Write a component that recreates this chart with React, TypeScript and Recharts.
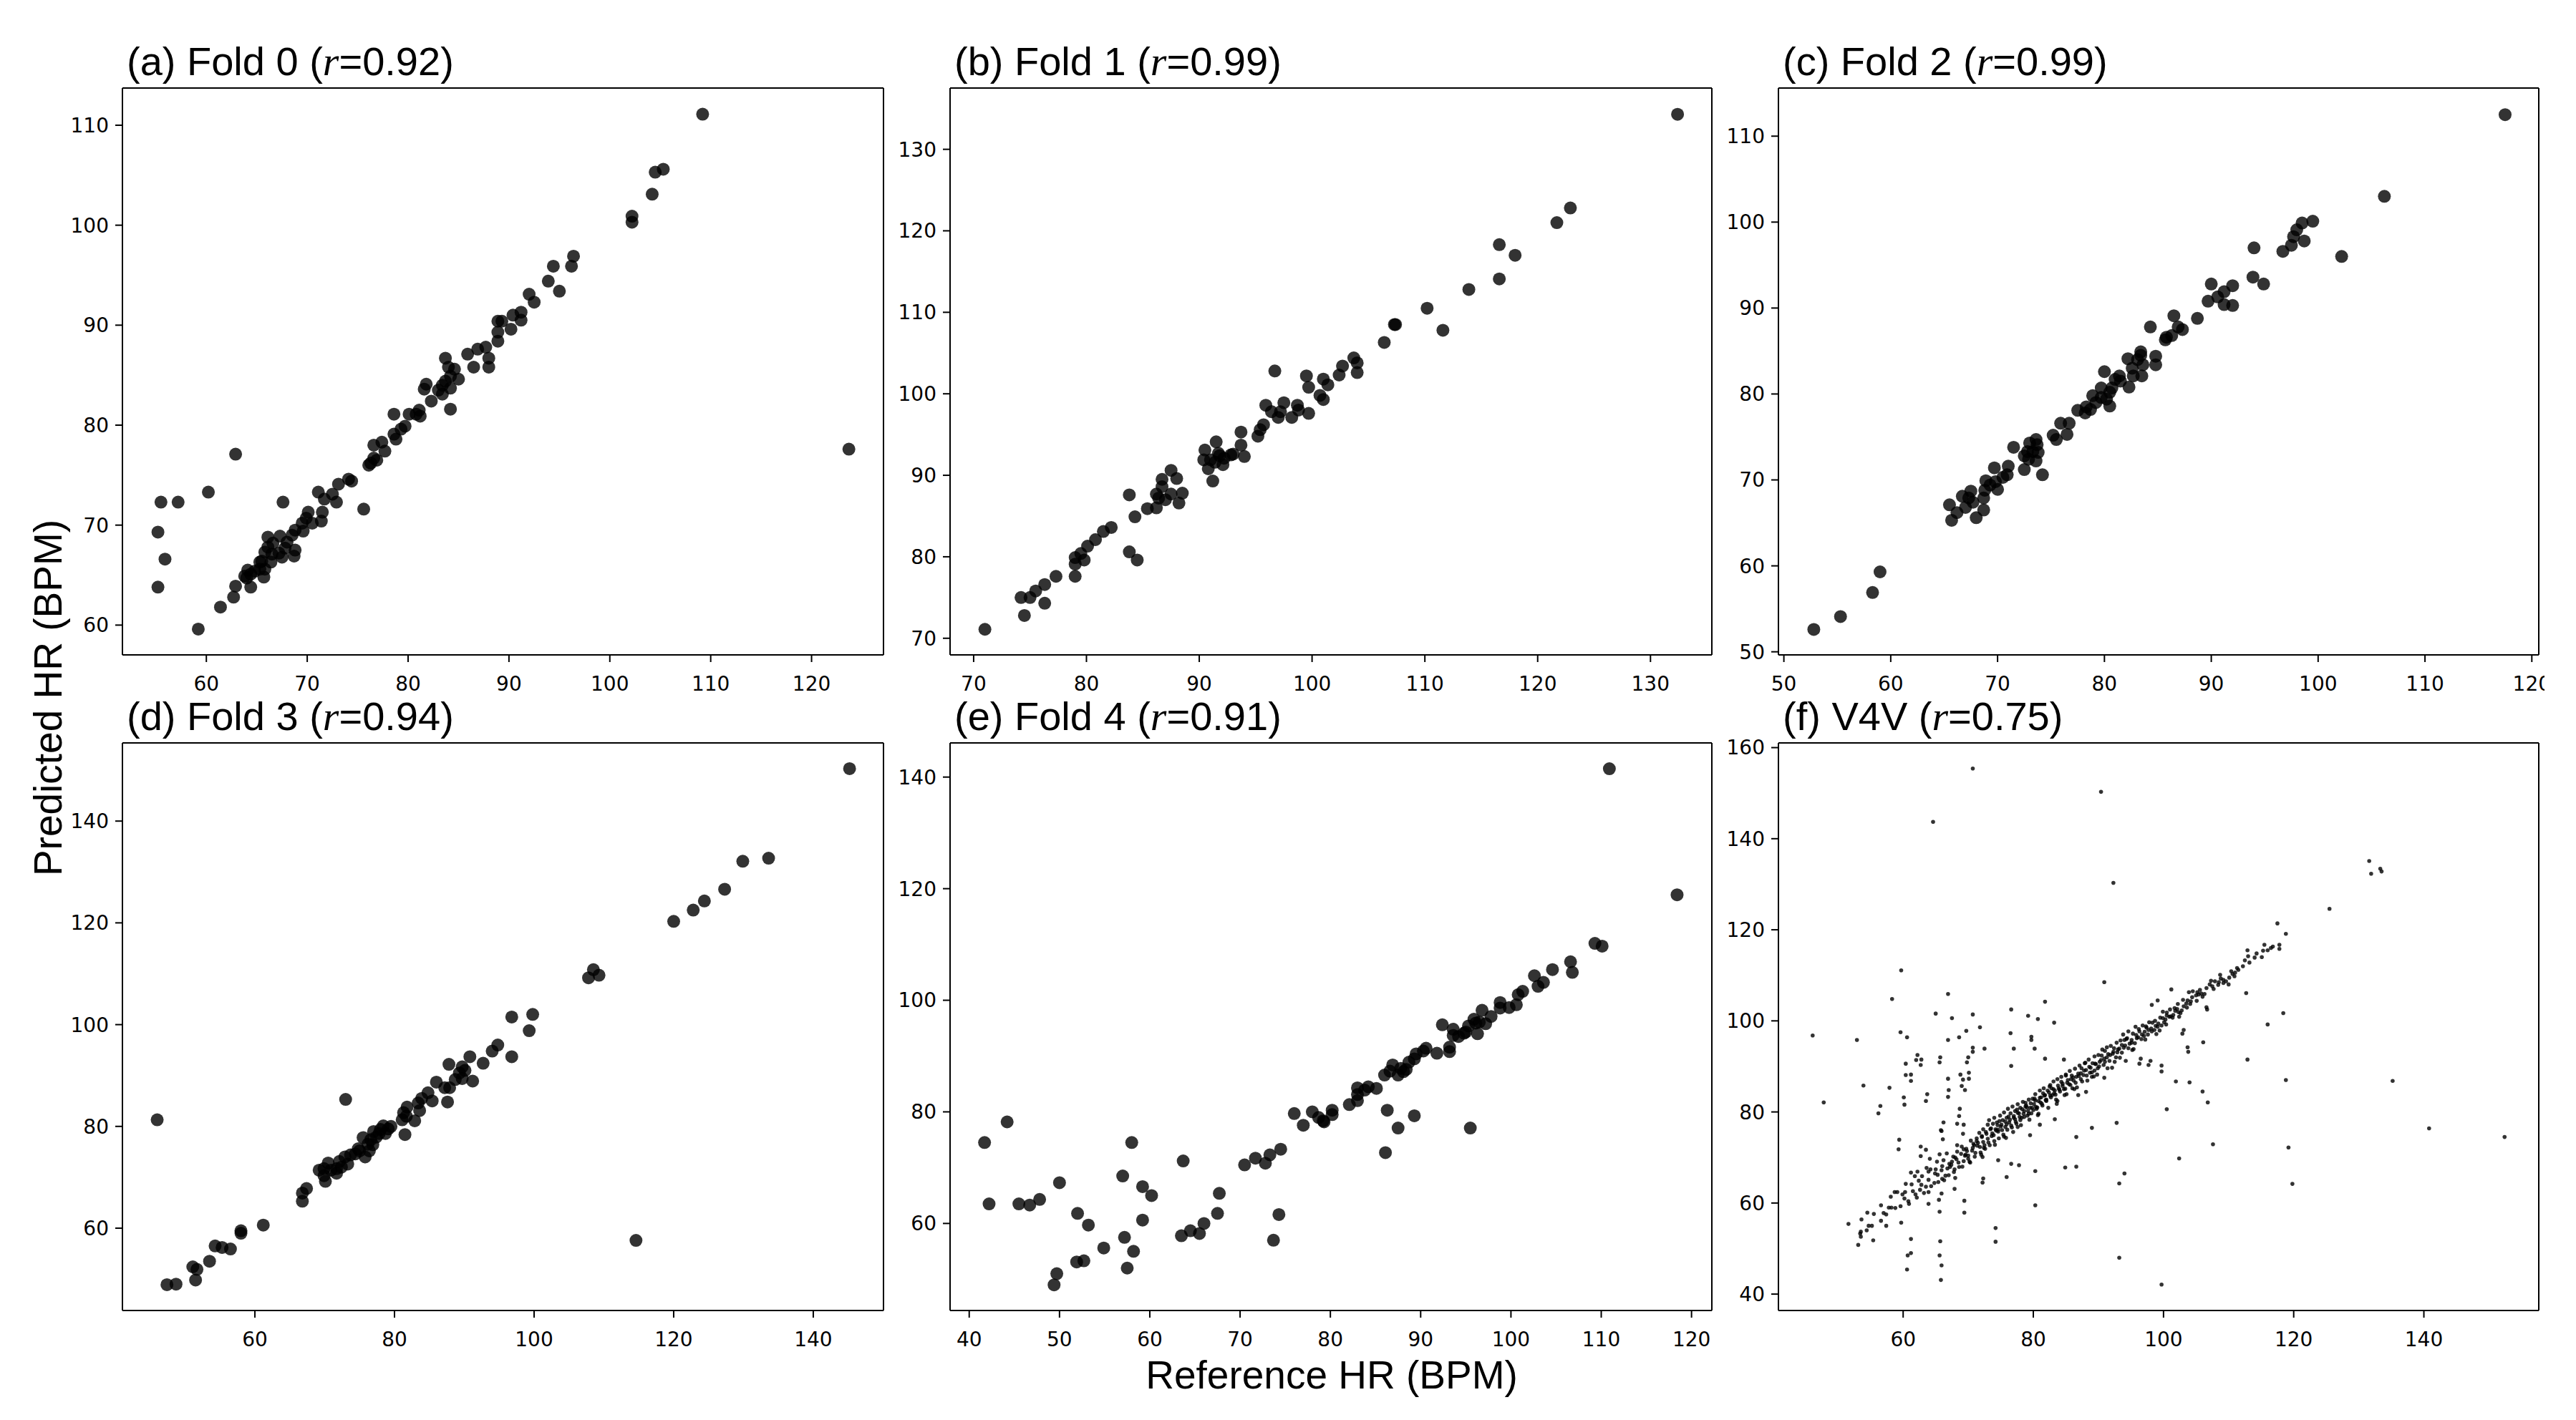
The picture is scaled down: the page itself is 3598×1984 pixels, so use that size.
import React from 'react';
import { ScatterChart, Scatter, XAxis, YAxis, ReferenceLine } from 'recharts';

type Pt = [number, number]; // [reference HR, predicted HR]

const fold0: Pt[] = [
  [109.2, 111.1], [123.7, 77.6], [105.3, 105.6], [104.5, 105.3], [104.2, 103.1], [102.2, 100.9], [102.2, 100.3],
  [96.4, 96.9], [96.2, 95.9], [94.4, 95.9], [93.9, 94.4], [95.0, 93.4], [92.0, 93.1], [92.5, 92.3], [91.2, 91.3],
  [91.2, 90.5], [90.4, 91.0], [90.2, 89.6], [88.9, 90.4], [89.3, 90.4], [88.9, 89.3], [88.9, 88.4], [87.7, 87.8],
  [86.9, 87.6], [85.9, 87.1], [86.5, 85.8], [88.0, 86.7], [88.0, 85.8], [83.7, 86.7], [84.0, 85.8], [84.6, 85.6],
  [85.0, 84.6], [84.2, 84.9], [83.7, 84.4], [83.4, 84.0], [84.2, 83.7], [83.0, 83.5], [83.4, 83.1], [84.2, 81.6],
  [81.8, 84.1], [81.6, 83.6], [82.3, 82.4], [81.1, 81.5], [80.8, 81.1], [80.1, 81.1], [81.2, 80.9], [79.7, 79.9],
  [79.3, 79.6], [78.6, 81.1], [78.8, 78.6], [78.6, 79.1], [77.4, 78.3], [76.6, 78.0], [77.7, 77.4], [76.9, 76.5],
  [76.3, 76.2], [76.1, 76.0], [76.6, 76.7], [75.6, 71.6], [74.4, 74.4], [74.1, 74.6], [73.1, 74.1], [72.5, 73.1],
  [72.9, 72.3], [71.7, 72.6], [71.1, 73.3], [71.5, 71.3], [71.4, 70.4], [70.1, 71.3], [69.9, 70.7], [69.5, 70.2],
  [70.5, 70.2], [69.6, 69.4], [68.8, 69.5], [68.5, 69.0], [68.0, 68.3], [67.6, 72.3], [67.3, 68.9], [66.6, 68.2],
  [66.1, 68.8], [67.5, 66.8], [68.7, 66.9], [68.8, 67.5], [66.1, 67.8], [65.8, 67.3], [66.4, 66.3], [65.5, 66.4],
  [65.8, 65.6], [65.3, 65.6], [65.7, 64.8], [64.4, 65.1], [64.1, 65.5], [64.0, 64.7], [64.4, 63.8], [62.9, 63.9],
  [62.7, 62.8], [61.4, 61.8], [59.2, 59.6], [62.9, 77.1], [60.2, 73.3], [57.2, 72.3], [55.5, 72.3], [55.2, 69.3],
  [55.9, 66.6], [55.2, 63.8], [66.5, 67.1], [67.2, 67.2], [67.8, 67.7], [65.3, 66.3], [64.8, 65.4], [63.8, 64.9],
];

const fold1: Pt[] = [
  [132.4, 134.3], [122.9, 122.8], [121.7, 121.0], [116.6, 118.3], [118.0, 117.0], [116.6, 114.1], [113.9, 112.8],
  [110.2, 110.5], [111.6, 107.8], [107.3, 108.5], [107.4, 108.5], [106.4, 106.3], [103.7, 104.4], [104.0, 103.8],
  [102.7, 103.4], [104.0, 102.6], [102.4, 102.3], [101.0, 101.8], [101.4, 101.1], [99.5, 102.2], [99.7, 100.8],
  [100.7, 99.8], [101.0, 99.3], [99.7, 97.6], [96.7, 102.8], [98.7, 98.6], [98.8, 98.0], [97.5, 98.9], [95.9, 98.6],
  [96.4, 97.8], [97.2, 97.8], [97.0, 97.1], [98.2, 97.1], [95.7, 96.2], [95.4, 95.6], [95.2, 94.8], [93.7, 95.3],
  [93.7, 93.7], [94.0, 92.3], [93.0, 92.6], [91.5, 94.1], [91.7, 92.7], [90.5, 93.1], [90.4, 91.9], [91.0, 91.9],
  [92.1, 91.3], [90.8, 90.8], [91.2, 89.3], [91.4, 91.6], [92.2, 92.1], [92.8, 92.5], [91.8, 92.4], [87.5, 90.6],
  [88.0, 89.6], [86.7, 89.5], [86.7, 88.6], [86.2, 87.7], [87.0, 87.0], [87.5, 87.7], [88.5, 87.8], [88.2, 86.6],
  [86.2, 86.0], [85.4, 85.9], [84.3, 84.9], [83.8, 87.6], [83.8, 80.6], [84.5, 79.6], [82.2, 83.6], [81.5, 83.1],
  [80.8, 82.1], [80.1, 81.3], [79.5, 80.4], [79.0, 79.9], [79.8, 79.6], [79.0, 79.1], [79.0, 77.6], [77.3, 77.6],
  [76.3, 76.6], [75.5, 75.8], [74.2, 75.0], [75.0, 75.0], [76.3, 74.3], [74.5, 72.8], [71.0, 71.1], [86.4, 87.2],
];

const fold2: Pt[] = [
  [117.5, 112.5], [106.2, 103.0], [102.2, 96.0], [99.5, 100.1], [98.5, 99.9], [98.0, 99.1], [97.7, 98.3],
  [98.7, 97.8], [97.5, 97.3], [96.7, 96.6], [94.0, 97.0], [93.9, 93.6], [94.9, 92.8], [90.0, 92.8], [92.0, 92.6],
  [91.2, 91.9], [90.6, 91.3], [91.2, 90.4], [92.0, 90.3], [89.7, 90.8], [88.7, 88.8], [86.5, 89.1], [84.3, 87.8],
  [86.9, 87.8], [87.3, 87.5], [86.3, 86.8], [85.8, 86.6], [85.7, 86.3], [83.4, 84.9], [83.4, 84.5], [84.8, 84.4],
  [83.1, 84.0], [82.2, 84.1], [83.6, 83.4], [84.8, 83.4], [82.6, 83.0], [80.0, 82.6], [83.5, 82.1], [82.7, 82.1],
  [81.4, 82.1], [81.0, 81.7], [81.5, 81.5], [80.7, 80.7], [82.3, 80.8], [79.7, 80.7], [80.5, 80.2], [78.9, 79.8],
  [79.7, 79.6], [80.2, 79.4], [79.2, 79.0], [78.3, 78.5], [78.7, 78.2], [80.5, 78.6], [77.5, 78.1], [78.2, 77.8],
  [75.9, 76.6], [76.7, 76.6], [76.5, 75.3], [75.5, 74.7], [75.2, 75.2], [73.6, 74.7], [73.0, 74.3], [73.7, 74.1],
  [71.5, 73.8], [72.8, 73.3], [73.3, 73.3], [72.5, 72.8], [73.8, 73.2], [72.9, 72.4], [73.6, 72.2], [72.5, 71.2],
  [74.2, 70.6], [71.0, 71.6], [70.9, 70.6], [69.7, 71.4], [70.5, 70.3], [69.8, 69.8], [69.3, 69.4], [68.9, 69.9],
  [70.0, 68.9], [68.8, 68.8], [68.7, 67.9], [67.5, 68.7], [66.7, 68.1], [67.3, 67.9], [67.7, 67.4], [67.0, 66.8],
  [65.5, 67.1], [66.2, 66.2], [65.7, 65.3], [68.7, 66.5], [68.0, 65.6], [59.0, 59.3], [58.3, 56.9], [55.3, 54.1],
  [52.8, 52.6],
];

const fold3: Pt[] = [
  [145.2, 150.3], [133.6, 132.7], [129.9, 132.1], [127.3, 126.6], [124.4, 124.3], [122.8, 122.5], [120.0, 120.3],
  [114.6, 57.6], [108.5, 110.8], [107.8, 109.2], [109.3, 109.7], [99.8, 102.0], [96.8, 101.5], [99.3, 98.8],
  [94.8, 96.0], [94.0, 94.8], [96.8, 93.7], [90.8, 93.7], [92.7, 92.4], [89.7, 91.7], [87.8, 92.2], [90.1, 91.0],
  [89.3, 90.5], [89.7, 89.4], [91.2, 88.9], [88.7, 89.2], [87.9, 87.6], [87.2, 87.6], [86.0, 88.7], [87.6, 84.8],
  [84.8, 86.6], [85.4, 85.0], [83.9, 85.5], [83.4, 84.6], [83.6, 83.1], [81.8, 83.8], [81.3, 82.7], [81.7, 82.0],
  [81.1, 81.3], [82.9, 81.1], [81.5, 78.4], [73.0, 85.3], [79.5, 80.0], [79.1, 79.5], [78.4, 80.1], [78.7, 78.6],
  [77.8, 78.6], [77.4, 77.9], [77.0, 79.0], [76.6, 77.4], [76.2, 76.5], [75.5, 77.8], [76.4, 75.2], [75.8, 74.0],
  [75.0, 75.2], [74.4, 74.6], [73.7, 74.4], [72.9, 74.0], [73.3, 72.6], [72.1, 73.1], [71.7, 71.7], [70.5, 72.8],
  [69.9, 71.7], [69.2, 71.4], [70.9, 71.4], [69.9, 70.3], [70.1, 69.2], [71.7, 70.8], [67.4, 67.8], [66.8, 66.9],
  [66.8, 65.3], [61.2, 60.6], [58.0, 59.5], [58.0, 59.0], [56.5, 55.9], [55.3, 56.2], [54.3, 56.5], [53.5, 53.5],
  [51.7, 51.9], [51.1, 52.4], [51.5, 49.8], [48.7, 49.0], [47.4, 48.9], [46.0, 81.3], [74.8, 75.6], [76.9, 76.4],
  [78.0, 79.4], [72.4, 72.0],
];

const fold4: Pt[] = [
  [110.9, 141.5], [118.4, 118.9], [109.3, 110.2], [110.1, 109.7], [106.6, 106.9], [106.8, 105.0], [104.6, 105.5],
  [102.6, 104.4], [103.6, 103.2], [103.0, 102.5], [101.3, 101.6], [100.8, 101.0], [100.6, 99.2], [99.8, 98.7],
  [98.8, 99.6], [98.8, 98.6], [97.8, 97.1], [96.8, 98.2], [97.2, 95.8], [96.5, 96.1], [95.9, 96.6], [95.3, 95.4],
  [96.3, 94.0], [95.0, 94.3], [92.4, 95.6], [93.6, 94.8], [93.6, 93.7], [94.2, 93.5], [93.2, 91.6], [93.2, 90.8],
  [91.8, 90.5], [90.6, 91.4], [90.3, 90.9], [89.5, 90.4], [89.3, 89.5], [88.7, 88.9], [88.4, 87.6], [87.8, 87.8],
  [86.9, 88.4], [86.6, 87.3], [87.5, 86.6], [86.0, 86.6], [85.1, 84.2], [84.2, 84.5], [83.8, 83.9], [83.0, 84.3],
  [83.0, 83.1], [83.0, 82.0], [82.1, 81.3], [80.2, 80.3], [80.2, 79.5], [79.2, 78.4], [79.3, 78.2], [78.7, 79.0],
  [78.0, 80.0], [76.0, 79.7], [77.0, 77.6], [86.3, 80.3], [89.3, 79.3], [87.5, 77.1], [95.5, 77.1], [86.1, 72.7],
  [74.5, 73.3], [73.3, 72.3], [71.7, 71.7], [72.8, 70.8], [70.5, 70.5], [67.7, 65.4], [67.5, 61.8], [74.3, 61.6],
  [73.7, 57.0], [66.0, 60.0], [65.5, 58.2], [64.5, 58.7], [63.5, 57.8], [63.7, 71.2], [60.2, 65.0], [59.2, 66.6],
  [59.2, 60.6], [58.0, 74.5], [57.0, 68.5], [57.2, 57.5], [58.2, 55.0], [57.5, 52.0], [54.9, 55.6], [53.2, 59.7],
  [52.0, 61.8], [52.7, 53.3], [51.9, 53.1], [50.0, 67.3], [49.7, 51.0], [49.4, 49.0], [47.8, 64.3], [46.7, 63.3],
  [45.5, 63.5], [44.2, 78.2], [42.2, 63.5], [41.7, 74.5], [96.1, 95.9], [88.1, 87.2], [94.8, 94.1],
];

const v4vOutliers: Pt[] = [
  [70.7, 155.4], [90.4, 150.3], [64.6, 143.7], [92.3, 130.3], [131.6, 135.1], [131.9, 132.3], [133.3, 133.4],
  [133.5, 132.8], [125.5, 124.6], [117.5, 121.4], [118.8, 119.1], [59.7, 111.1], [58.3, 104.8], [66.9, 105.9],
  [90.9, 108.5], [81.8, 104.2], [65.0, 101.6], [70.7, 101.4], [76.6, 102.5], [67.5, 100.6], [79.2, 101.1],
  [80.7, 100.4], [83.2, 99.6], [71.8, 98.6], [69.7, 97.8], [59.6, 97.5], [46.1, 96.8], [52.9, 95.8], [60.6, 96.4],
  [68.6, 96.4], [66.9, 95.8], [76.5, 97.3], [79.7, 96.5], [79.7, 95.8], [72.5, 93.9], [70.7, 93.2], [77.0, 93.9],
  [80.2, 93.9], [65.6, 90.9], [60.4, 90.6], [62.0, 91.4], [62.7, 90.3], [69.8, 90.9], [76.6, 90.1], [81.8, 91.7],
  [84.7, 91.5], [60.4, 88.1], [61.2, 86.8], [66.9, 87.3], [69.2, 87.1], [70.1, 87.3], [70.1, 88.6], [53.9, 85.8],
  [57.9, 85.3], [69.5, 84.8], [63.5, 82.4], [47.8, 82.1], [60.2, 81.6], [66.9, 83.3], [56.2, 79.7], [68.6, 79.1],
  [65.9, 75.8], [66.1, 74.0], [59.3, 71.8], [62.7, 70.3], [72.2, 70.1], [74.6, 69.4], [76.6, 68.6], [77.8, 68.3],
  [67.9, 63.1], [63.9, 59.8], [56.6, 59.5], [51.6, 55.4], [54.7, 55.0], [57.4, 55.0], [59.7, 55.7], [69.4, 57.9],
  [80.3, 59.5], [65.6, 58.1], [72.3, 65.4], [75.9, 65.7], [80.3, 67.0], [65.6, 48.5], [61.2, 49.0], [60.6, 45.4],
  [65.8, 43.1], [74.2, 51.5], [93.2, 48.0], [99.7, 42.1], [94.0, 66.5], [93.2, 64.3], [92.8, 77.6], [89.0, 76.5],
  [86.6, 74.5], [84.9, 67.8], [86.6, 68.0], [100.5, 80.6], [102.4, 69.8], [107.6, 72.9], [106.8, 82.1], [106.0, 84.5],
  [104.0, 86.5], [101.9, 86.7], [97.7, 90.3], [96.3, 90.6], [99.7, 88.9], [102.9, 97.2], [103.8, 93.2], [106.1, 95.3],
  [106.7, 102.5], [112.7, 106.1], [112.9, 91.5], [116.0, 99.2], [118.4, 101.7], [118.8, 87.0], [119.2, 72.2],
  [119.8, 64.2], [135.2, 86.8], [140.8, 76.4], [152.4, 74.5], [53.5, 53.7], [53.1, 50.8], [53.5, 52.6], [55.4, 51.8],
  [59.4, 73.9], [56.5, 81.3], [60.1, 83.2], [63.7, 83.9], [61.2, 88.2], [62.2, 92.5], [62.8, 91.5], [65.7, 92.0],
  [67.0, 84.8], [68.8, 88.2], [69.0, 85.7], [70.0, 92.0], [70.7, 94.1], [68.7, 80.7], [66.2, 77.7], [65.8, 76.0],
  [68.3, 77.4], [69.3, 77.2], [69.2, 75.2], [62.7, 72.4], [63.5, 71.7], [68.0, 65.5], [69.4, 60.5], [72.2, 64.5],
  [63.9, 62.4], [65.9, 62.1], [65.5, 60.7], [74.2, 54.5], [61.2, 52.1], [60.7, 48.5], [65.7, 51.6], [65.9, 46.3],
  [98.2, 103.5], [99.1, 104.5], [101.2, 106.9], [103.1, 98.0], [103.7, 94.2], [106.6, 103.0], [99.7, 90.2],
  [96.5, 91.7], [98.0, 91.2], [90.9, 87.5], [88.1, 84.4], [86.9, 83.7], [83.3, 78.4], [81.0, 77.2], [79.5, 74.9],
];

const v4vBand: Pt[] = [
  [53.6, 56.4], [54.5, 57.9], [55.5, 57.6], [57.0, 57.8], [57.8, 59.0], [58.2, 59.0], [58.1, 61.4], [58.7, 62.4],
  [59.1, 62.4], [59.9, 61.9], [60.3, 62.4], [60.4, 64.2], [61.2, 66.7], [61.3, 64.1], [61.8, 65.9], [62.2, 66.9],
  [62.4, 64.9], [62.9, 65.9], [63.6, 67.7], [63.9, 66.9], [64.2, 67.4], [64.1, 69.7], [65.0, 67.4], [65.2, 69.1],
  [65.6, 70.7], [66.0, 68.1], [66.2, 69.4], [66.7, 70.9], [67.1, 68.6], [67.5, 69.1], [67.7, 70.2], [68.3, 71.3],
  [68.3, 72.7], [69.0, 72.4], [69.3, 71.8], [69.5, 70.4], [70.0, 69.7], [69.8, 71.4], [70.4, 73.7], [70.9, 72.7],
  [71.3, 74.2], [71.5, 73.2], [71.7, 75.4], [72.1, 74.7], [72.3, 76.2], [72.5, 72.7], [72.8, 75.2], [73.0, 77.2],
  [73.2, 78.2], [73.4, 76.2], [73.6, 74.7], [73.8, 77.4], [74.0, 78.7], [74.2, 76.2], [74.4, 77.7], [74.6, 75.7],
  [74.9, 79.2], [75.1, 77.2], [75.3, 78.2], [75.5, 79.9], [75.7, 76.7], [75.9, 78.7], [76.1, 80.7], [76.3, 77.7],
  [76.5, 79.7], [76.8, 81.2], [77.0, 78.7], [77.2, 80.2], [77.4, 77.4], [77.6, 81.7], [77.8, 79.7], [78.0, 80.9],
  [78.2, 78.7], [78.4, 82.2], [78.6, 80.2], [78.9, 81.4], [79.1, 79.2], [79.3, 82.7], [79.5, 80.9], [79.7, 79.7],
  [79.9, 82.9], [80.1, 81.7], [80.3, 83.9], [80.5, 80.7], [80.8, 82.4], [81.0, 84.7], [81.2, 83.2], [81.4, 81.4],
  [81.6, 85.2], [81.8, 83.7], [82.0, 82.4], [82.2, 84.7], [82.6, 85.9], [82.9, 83.7], [83.1, 86.7], [83.3, 84.7],
  [83.5, 82.7], [83.7, 87.2], [83.9, 85.2], [84.3, 87.7], [84.5, 85.7], [84.8, 83.7], [85.0, 88.2], [85.2, 86.4],
  [85.6, 89.0], [85.8, 87.2], [86.0, 85.2], [86.4, 89.5], [86.6, 87.7], [87.1, 90.2], [87.3, 88.5], [87.5, 86.7],
  [87.9, 90.7], [88.1, 89.2], [88.5, 91.5], [88.8, 89.7], [89.0, 87.7], [89.4, 92.2], [89.6, 90.5], [90.0, 92.5],
  [90.2, 91.0], [90.6, 93.7], [90.9, 91.7], [91.3, 94.2], [91.5, 92.7], [91.9, 94.5], [92.1, 89.7], [92.3, 93.2],
  [92.8, 95.2], [93.0, 93.7], [93.4, 95.7], [93.6, 94.7], [93.8, 97.0], [94.2, 91.2], [94.4, 96.2], [94.6, 97.7],
  [95.1, 95.2], [95.3, 97.2], [95.7, 98.7], [95.9, 96.2], [96.3, 97.7], [96.8, 99.0], [97.0, 96.7], [97.4, 98.5],
  [97.8, 99.7], [98.2, 97.7], [98.7, 100.0], [99.1, 98.7], [99.5, 100.7], [99.9, 102.0], [100.1, 99.7], [100.5, 101.2],
  [101.0, 102.5], [101.4, 100.7], [101.8, 102.2], [102.2, 103.7], [102.6, 101.7], [103.1, 103.2], [103.7, 104.5],
  [104.1, 103.7], [103.9, 106.3], [104.5, 106.5], [105.2, 106.3], [106.0, 105.3], [105.4, 105.8], [107.3, 108.8],
  [107.7, 107.0], [108.5, 108.5], [108.8, 109.3], [109.2, 108.3], [110.0, 108.0], [110.6, 110.3], [110.9, 109.8],
  [111.5, 111.2], [112.5, 113.3], [113.2, 112.8], [114.0, 113.9], [115.1, 114.0], [112.9, 115.5], [115.5, 116.7],
  [115.3, 115.4], [116.5, 116.0], [116.8, 116.3], [117.8, 116.7], [117.8, 115.8],
];

const v4vCore: Pt[] = [
  [66.5, 66.0], [67.2, 67.9], [67.8, 66.8], [68.5, 68.9], [69.1, 68.0], [69.6, 70.6], [70.2, 69.1], [70.6, 71.5],
  [71.0, 70.2], [71.4, 72.6], [71.9, 71.1], [72.3, 73.4], [72.6, 71.9], [73.0, 74.1], [73.3, 72.7], [73.7, 75.3],
  [74.0, 73.6], [74.3, 75.9], [74.7, 74.2], [75.0, 76.8], [75.4, 75.0], [75.7, 77.9], [76.0, 76.1], [76.4, 78.3],
  [76.7, 76.6], [77.0, 79.1], [77.3, 77.8], [77.6, 79.8], [78.0, 78.2], [78.3, 80.6], [78.6, 78.9], [79.0, 81.0],
  [79.3, 79.6], [79.6, 81.9], [80.0, 80.4], [80.3, 82.5], [80.6, 81.0], [81.0, 83.1], [81.3, 81.8], [81.7, 83.6],
  [82.0, 82.7], [82.4, 84.3], [82.7, 83.2], [83.1, 85.0], [83.4, 83.8], [83.8, 85.8], [84.1, 84.5], [84.5, 86.2],
  [84.9, 85.1], [85.3, 87.0], [85.7, 85.9], [86.1, 87.6], [86.5, 86.4], [86.9, 88.4], [87.3, 87.2], [87.8, 89.1],
  [88.2, 88.0], [88.6, 89.9], [89.0, 88.7], [89.5, 90.6], [89.9, 89.6], [90.4, 91.4], [90.8, 90.3], [91.3, 92.0],
  [91.7, 91.2], [92.2, 92.8], [92.7, 92.0], [93.2, 93.9], [93.6, 93.0], [94.1, 94.6], [94.6, 94.0], [95.1, 95.8],
  [95.6, 95.1], [96.1, 96.4], [96.6, 96.0], [97.1, 97.6], [97.6, 97.0], [98.1, 98.3], [98.6, 98.0], [99.2, 99.4],
  [99.7, 99.0], [100.3, 100.3], [100.9, 100.9], [101.5, 101.3], [102.1, 102.6], [102.8, 102.3], [103.5, 103.8],
  [104.2, 104.3], [105.0, 105.6], [105.8, 106.0], [106.6, 107.2], [107.5, 107.6], [108.4, 107.9], [109.2, 109.0],
  [110.1, 109.5], [111.0, 110.6], [68.0, 70.0], [70.8, 73.0], [72.0, 70.6], [74.5, 77.1], [75.8, 74.3], [77.6, 76.7],
  [78.8, 82.0], [80.8, 79.6], [82.5, 85.6], [83.7, 82.4], [85.0, 88.0], [86.3, 85.0], [88.0, 90.8], [89.3, 87.8],
  [91.0, 93.4], [92.5, 91.0], [94.0, 95.8], [95.4, 93.8], [97.3, 98.8], [98.9, 97.1], [100.5, 101.8], [102.4, 100.9],
  [64.8, 64.4], [65.3, 66.2], [66.0, 65.3], [63.5, 63.6], [62.6, 62.9], [61.9, 61.9], [60.8, 60.4], [59.6, 59.3],
  [58.8, 58.9], [57.4, 57.5], [56.6, 56.1], [55.2, 55.0], [54.4, 54.0], [53.4, 53.3],
];

const v4vCoreExtra: Pt[] = [
  [60.2, 61.0], [60.9, 59.8], [61.5, 62.6], [62.1, 61.2], [62.8, 64.0], [63.2, 62.2], [63.9, 65.1], [64.3, 63.7],
  [64.9, 66.5], [65.4, 64.6], [65.9, 67.2], [66.3, 65.0], [66.8, 67.6], [67.0, 66.1], [67.4, 68.4], [67.9, 67.4],
  [68.2, 69.6], [68.6, 67.9], [68.9, 70.8], [69.3, 69.2], [69.7, 71.9], [70.0, 70.4], [70.3, 68.9], [70.7, 72.1],
  [71.1, 71.0], [71.3, 73.6], [71.8, 72.3], [72.1, 74.5], [72.4, 72.1], [72.7, 75.6], [73.1, 73.3], [73.5, 76.4],
  [73.9, 74.9], [74.1, 72.8], [74.6, 76.1], [74.8, 78.0], [75.2, 76.0], [75.5, 74.6], [75.9, 77.3], [76.2, 79.0],
  [76.6, 77.0], [76.9, 75.6], [77.2, 78.4], [77.5, 80.5], [77.9, 78.9], [78.1, 77.1], [78.5, 79.6], [78.8, 81.2],
  [79.2, 80.2], [79.4, 78.3], [79.8, 80.9], [80.2, 82.9], [80.4, 81.1], [80.7, 79.3], [81.1, 82.1], [81.5, 84.1],
  [81.9, 82.6], [82.3, 80.9], [82.6, 83.6], [82.8, 85.2], [83.2, 84.1], [83.6, 81.8], [84.0, 84.9], [84.3, 86.6],
  [84.7, 85.0], [85.1, 83.9], [85.5, 86.1], [85.9, 88.0], [86.2, 86.9], [86.7, 85.4], [87.0, 87.9], [87.4, 89.6],
  [87.7, 88.1], [88.3, 86.9], [88.7, 88.6], [89.1, 90.7], [89.4, 89.1], [89.8, 88.2], [90.1, 90.0], [90.5, 92.4],
  [91.0, 91.0], [91.4, 89.6], [91.8, 92.5], [92.4, 94.0], [92.9, 93.1], [93.3, 91.9], [93.9, 94.1], [94.3, 96.0],
  [94.8, 95.0], [95.2, 93.6], [95.8, 96.9], [96.2, 98.2], [96.7, 97.0], [97.2, 95.9], [97.7, 98.0], [98.3, 99.6],
  [98.8, 98.9], [99.4, 97.9], [99.9, 100.6], [100.4, 99.2], [101.1, 101.0], [101.7, 102.8], [102.3, 101.9],
  [103.0, 104.6], [103.6, 102.9], [104.4, 105.2], [105.1, 104.4], [105.6, 106.8], [106.3, 105.9], [107.1, 108.0],
  [107.9, 108.7], [108.7, 110.1], [109.6, 108.7], [110.4, 110.9], [111.3, 111.6], [112.2, 112.0], [113.0, 114.2],
  [114.3, 114.8], [116.0, 115.5],
];

const titles = ['(a) Fold 0', '(b) Fold 1', '(c) Fold 2', '(d) Fold 3', '(e) Fold 4', '(f) V4V'];
const rValues = ['0.92', '0.99', '0.99', '0.94', '0.91', '0.75'];

const tens = (a: number, b: number) => {
  const out: number[] = [];
  for (let v = a; v <= b; v += 10) out.push(v);
  return out;
};
const twenties = (a: number, b: number) => {
  const out: number[] = [];
  for (let v = a; v <= b; v += 20) out.push(v);
  return out;
};

const COLS = [171, 1327, 2484];
const COL_W = [1063, 1064, 1062];
const ROWS = [123, 1038];
const ROW_H = [792, 793];

const panels = [
  { pts: [fold0], xDomain: [51.68, 127.13], yDomain: [57.02, 113.72], xTicks: tens(60, 120), yTicks: tens(60, 110), r: 9, col: 0, row: 0 },
  { pts: [fold1], xDomain: [67.91, 135.44], yDomain: [67.96, 137.52], xTicks: tens(70, 130), yTicks: tens(70, 130), r: 9, col: 1, row: 0 },
  { pts: [fold2], xDomain: [49.49, 120.65], yDomain: [49.64, 115.6], xTicks: tens(50, 120), yTicks: tens(50, 110), r: 9, col: 2, row: 0 },
  { pts: [fold3], xDomain: [41.02, 150.06], yDomain: [43.82, 155.36], xTicks: twenties(60, 140), yTicks: twenties(60, 140), r: 9, col: 0, row: 1 },
  { pts: [fold4], xDomain: [37.88, 122.25], yDomain: [44.4, 146.12], xTicks: tens(40, 120), yTicks: twenties(60, 140), r: 9, col: 1, row: 1 },
  { pts: [v4vBand, v4vCore, v4vCoreExtra, v4vOutliers], xDomain: [40.84, 157.65], yDomain: [36.4, 161.03], xTicks: twenties(60, 140), yTicks: twenties(40, 160), r: 2.8, col: 2, row: 1 },
];

const PAD_L = 130;
const PAD_T = 10;
const PAD_R = 10;
const PAD_B = 80;

const tickFont = { fontFamily: 'DejaVu Sans', fontSize: 28, fill: '#000' };
const sans = '"Liberation Sans", Arial, sans-serif';

const dotShape = (r: number) => (props: any) => (
  <circle cx={props.cx} cy={props.cy} r={r} fill="#000" fillOpacity={0.8} />
);

function Panel({ idx }: { idx: number }) {
  const p = panels[idx];
  const left = COLS[p.col];
  const top = ROWS[p.row];
  const w = COL_W[p.col];
  const h = ROW_H[p.row];
  return (
    <>
      <div
        style={{
          position: 'absolute',
          left: left + 6,
          top: top - 18 - 47,
          fontFamily: sans,
          fontSize: 56,
          lineHeight: '56px',
          whiteSpace: 'nowrap',
          color: '#000',
        }}
      >
        {titles[idx]} (
        <span style={{ fontFamily: '"Liberation Serif", "DejaVu Serif", serif', fontStyle: 'italic', fontSize: 58 }}>r</span>
        ={rValues[idx]})
      </div>
      <div style={{ position: 'absolute', left: left - PAD_L, top: top - PAD_T }}>
        <ScatterChart
          width={w + PAD_L + PAD_R}
          height={h + PAD_T + PAD_B}
          margin={{ top: PAD_T, right: PAD_R, bottom: 0, left: 0 }}
        >
          <XAxis
            type="number"
            dataKey="ref"
            domain={p.xDomain}
            ticks={p.xTicks}
            allowDataOverflow
            interval={0}
            height={PAD_B}
            tickSize={10}
            tickMargin={20}
            tick={tickFont}
            tickLine={{ stroke: '#000', strokeWidth: 2 }}
            axisLine={{ stroke: '#000', strokeWidth: 2 }}
          />
          <YAxis
            type="number"
            dataKey="pred"
            domain={p.yDomain}
            ticks={p.yTicks}
            allowDataOverflow
            interval={0}
            width={PAD_L}
            tickSize={10}
            tickMargin={9}
            tick={tickFont}
            tickLine={{ stroke: '#000', strokeWidth: 2 }}
            axisLine={{ stroke: '#000', strokeWidth: 2 }}
          />
          <ReferenceLine x={p.xDomain[1]} stroke="#000" strokeWidth={2} />
          <ReferenceLine y={p.yDomain[1]} stroke="#000" strokeWidth={2} />
          {p.pts.map((set, i) => (
            <Scatter
              key={i}
              data={set.map(([ref, pred]) => ({ ref, pred }))}
              isAnimationActive={false}
              shape={dotShape(p.r)}
            />
          ))}
        </ScatterChart>
      </div>
    </>
  );
}

export default function App() {
  return (
    <div style={{ position: 'absolute', left: 0, top: 0, width: 3598, height: 1984, background: '#fff' }}>
      <div style={{ position: 'absolute', left: 0, top: 0, width: 3554, height: 1984, overflow: 'hidden' }}>
        {panels.map((_, i) => (
          <Panel key={i} idx={i} />
        ))}
        <div
          style={{
            position: 'absolute',
            left: 1860,
            top: 1894,
            transform: 'translateX(-50%)',
            fontFamily: sans,
            fontSize: 55,
            lineHeight: '55px',
            whiteSpace: 'nowrap',
          }}
        >
          Reference HR (BPM)
        </div>
        <div
          style={{
            position: 'absolute',
            left: 67,
            top: 975,
            transform: 'translate(-50%, -50%) rotate(-90deg)',
            fontFamily: sans,
            fontSize: 55,
            lineHeight: '55px',
            whiteSpace: 'nowrap',
          }}
        >
          Predicted HR (BPM)
        </div>
      </div>
    </div>
  );
}
